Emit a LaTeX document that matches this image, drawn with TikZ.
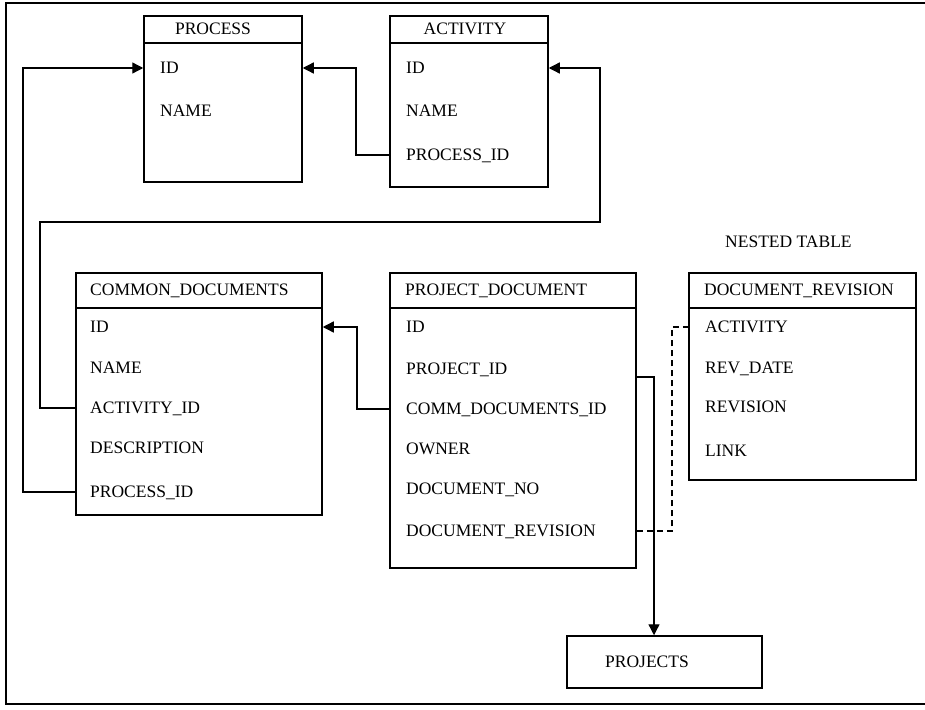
\documentclass[tikz,border=0pt]{standalone}
\usepackage{fontspec}
\setmainfont{Liberation Serif}
\usetikzlibrary{arrows.meta,fit}
\newcommand\rowfont{\fontsize{17.5}{21}\selectfont}
\begin{document}
\begin{tikzpicture}[x=1pt,y=-1pt,
  boxline/.style={line width=1.5pt},
  tbl/.style={draw, line width=1.5pt, inner sep=0pt},
  row/.style={anchor=west, inner sep=0pt, text height=11.6pt, text depth=0pt, font=\rowfont},
  fk/.style={line width=1.3pt, -{Triangle[length=11pt,width=11pt]}},
  nest/.style={line width=1.2pt, dash pattern=on 6pt off 4pt},
  frame/.style={line width=2pt}]
\useasboundingbox (0,0) rectangle (925,709);

% page frame (open on the right)
\draw[frame] (925,3) -- (6,3) -- (6,704) -- (925,704);

% header rule heights
\coordinate (hdrtop) at (0,43);
\coordinate (hdrmid) at (0,308);

% PROCESS
\node[tbl, fit={(144,16) (302,182)}] (process) {};
\draw[boxline] (process.west |- hdrtop) -- (process.east |- hdrtop);
\node[row, anchor=center] (process-title) at (213,29) {PROCESS};
\node[row] (process-id) at (160,68) {ID};
\node[row] (process-name) at (160,111) {NAME};

% ACTIVITY
\node[tbl, fit={(390,16) (548,187)}] (activity) {};
\draw[boxline] (activity.west |- hdrtop) -- (activity.east |- hdrtop);
\node[row, anchor=center] (activity-title) at (465,29) {ACTIVITY};
\node[row] (activity-id) at (406,68) {ID};
\node[row] (activity-name) at (406,111) {NAME};
\node[row] (activity-pid) at (406,155) {PROCESS\_ID};

% COMMON_DOCUMENTS
\node[tbl, fit={(76,273) (322,515)}] (common) {};
\draw[boxline] (common.west |- hdrmid) -- (common.east |- hdrmid);
\node[row] (common-title) at (90,290) {COMMON\_DOCUMENTS};
\node[row] (common-id) at (90,327) {ID};
\node[row] (common-name) at (90,368) {NAME};
\node[row] (common-aid) at (90,408) {ACTIVITY\_ID};
\node[row] (common-desc) at (90,448) {DESCRIPTION};
\node[row] (common-pid) at (90,492) {PROCESS\_ID};

% PROJECT_DOCUMENT
\node[tbl, fit={(390,273) (636,568)}] (projdoc) {};
\draw[boxline] (projdoc.west |- hdrmid) -- (projdoc.east |- hdrmid);
\node[row] (projdoc-title) at (405,290) {PROJECT\_DOCUMENT};
\node[row] (projdoc-id) at (406,327) {ID};
\node[row] (projdoc-pid) at (406,369) {PROJECT\_ID};
\node[row] (projdoc-cdid) at (406,409) {COMM\_DOCUMENTS\_ID};
\node[row] (projdoc-owner) at (406,449) {OWNER};
\node[row] (projdoc-no) at (406,489) {DOCUMENT\_NO};
\node[row] (projdoc-drev) at (406,531) {DOCUMENT\_REVISION};

% DOCUMENT_REVISION (nested table)
\node[row] (nested-label) at (725,242) {NESTED TABLE};
\node[tbl, fit={(689,273) (916,480)}] (docrev) {};
\draw[boxline] (docrev.west |- hdrmid) -- (docrev.east |- hdrmid);
\node[row] (docrev-title) at (704,290) {DOCUMENT\_REVISION};
\node[row] (docrev-act) at (705,327) {ACTIVITY};
\node[row] (docrev-date) at (705,368) {REV\_DATE};
\node[row] (docrev-rev) at (705,407) {REVISION};
\node[row] (docrev-link) at (705,451) {LINK};

% PROJECTS
\node[tbl, fit={(567,636) (762,688)}] (projects) {};
\node[row] (projects-title) at (605,662) {PROJECTS};

% foreign keys
\coordinate (procjoint) at (356,0);
\draw[fk] (activity-pid -| activity.west) -| (procjoint |- process-id) -- (process.east |- process-id);

\coordinate (actbusL) at (40,222);
\coordinate (actbusR) at (600,222);
\draw[fk] (common-aid -| common.west) -| (actbusL) -- (actbusR) |- (activity.east |- activity-id);

\coordinate (procbus) at (23,68);
\draw[fk] (common-pid -| common.west) -| (procbus) -- (process.west |- process-id);

\coordinate (cdjoint) at (357,0);
\draw[fk] (projdoc-cdid -| projdoc.west) -| (cdjoint |- common-id) -- (common.east |- common-id);

\coordinate (pjdrop) at (654,377);
\draw[fk] (projdoc.east |- pjdrop) -- (pjdrop) -- (pjdrop |- projects.north);

% nested-table link
\coordinate (nestjoint) at (672,0);
\draw[nest] (projdoc-drev -| projdoc.east) -| (nestjoint |- docrev-act) -- (docrev.west |- docrev-act);
\end{tikzpicture}
\end{document}
